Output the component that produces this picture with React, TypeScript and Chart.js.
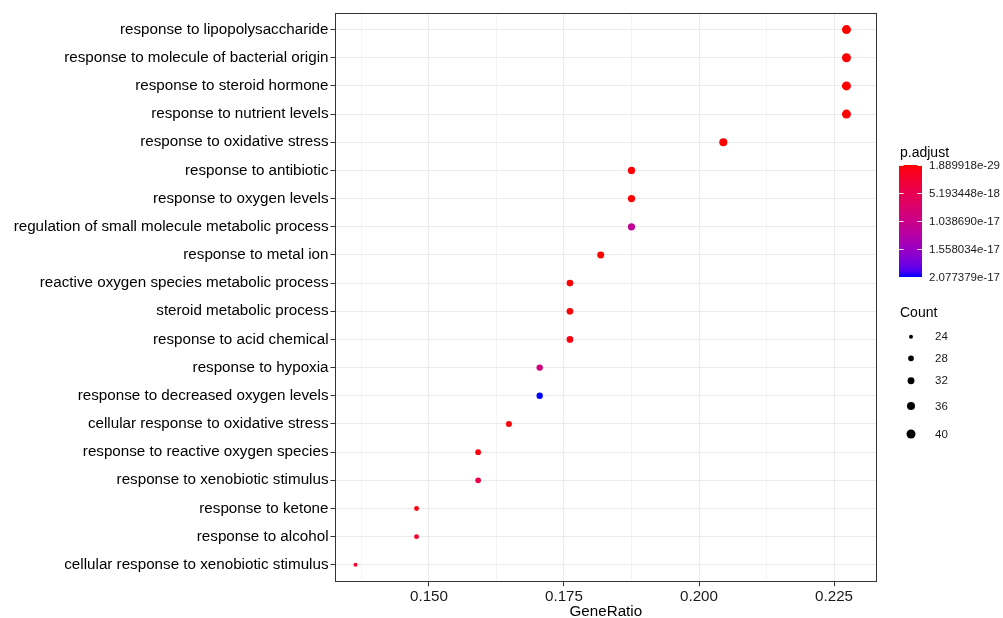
import React, { useEffect, useRef } from "react";
import { Chart, registerables } from "chart.js";

Chart.register(...registerables);

// ---------- data ----------
const terms: string[] = [
  "response to lipopolysaccharide",
  "response to molecule of bacterial origin",
  "response to steroid hormone",
  "response to nutrient levels",
  "response to oxidative stress",
  "response to antibiotic",
  "response to oxygen levels",
  "regulation of small molecule metabolic process",
  "response to metal ion",
  "reactive oxygen species metabolic process",
  "steroid metabolic process",
  "response to acid chemical",
  "response to hypoxia",
  "response to decreased oxygen levels",
  "cellular response to oxidative stress",
  "response to reactive oxygen species",
  "response to xenobiotic stimulus",
  "response to ketone",
  "response to alcohol",
  "cellular response to xenobiotic stimulus",
];

const geneRatio: number[] = [
  0.2273, 0.2273, 0.2273, 0.2273, 0.2045, 0.1875, 0.1875, 0.1875, 0.1818, 0.1761,
  0.1761, 0.1761, 0.1705, 0.1705, 0.1648, 0.1591, 0.1591, 0.1477, 0.1477, 0.1364,
];

const counts: number[] = [40, 40, 40, 40, 36, 33, 33, 33, 32, 31, 31, 31, 30, 30, 29, 28, 28, 26, 26, 24];

const pAdjust: number[] = [
  1.889918e-29, 3.5e-27, 8.2e-26, 4.1e-24, 2.3e-23, 6.4e-21, 1.2e-20, 1.15e-17, 4.0e-20, 7.5e-21,
  2.2e-19, 5.1e-19, 9.3e-18, 2.077379e-17, 3.8e-19, 4.0e-19, 4.6e-18, 6.0e-19, 2.5e-18, 2.6e-18,
];

const colorTicks: number[] = [1.889918e-29, 5.193448e-18, 1.03869e-17, 1.558034e-17, 2.077379e-17];
const sizeBreaks: number[] = [24, 28, 32, 36, 40];
const xMajorTicks: number[] = [0.15, 0.175, 0.2, 0.225];
const xMinorTicks: number[] = [0.1375, 0.1625, 0.1875, 0.2125];

// ---------- helpers ----------
const FONT = "'Liberation Sans', Arial, Helvetica, sans-serif";
const LOW = [255, 0, 0];
const HIGH = [0, 0, 255];
const pMin = colorTicks[0];
const pMax = colorTicks[colorTicks.length - 1];
const sMin = sizeBreaks[0];
const sMax = sizeBreaks[sizeBreaks.length - 1];

function toLin(c: number) {
  c /= 255;
  return c <= 0.04045 ? c / 12.92 : Math.pow((c + 0.055) / 1.055, 2.4);
}
function fromLin(c: number) {
  const v = c <= 0.0031308 ? 12.92 * c : 1.055 * Math.pow(Math.max(c, 0), 1 / 2.4) - 0.055;
  return Math.round(Math.max(0, Math.min(1, v)) * 255);
}
function rgbToLab(rgb: number[]) {
  const R = toLin(rgb[0]), G = toLin(rgb[1]), B = toLin(rgb[2]);
  const X = (0.4124 * R + 0.3576 * G + 0.1805 * B) / 0.95047;
  const Y = 0.2126 * R + 0.7152 * G + 0.0722 * B;
  const Z = (0.0193 * R + 0.1192 * G + 0.9505 * B) / 1.08883;
  const f = (t: number) => (t > 0.008856 ? Math.cbrt(t) : 7.787 * t + 16 / 116);
  return [116 * f(Y) - 16, 500 * (f(X) - f(Y)), 200 * (f(Y) - f(Z))];
}
function labToRgb(lab: number[]) {
  const fy = (lab[0] + 16) / 116;
  const fx = fy + lab[1] / 500;
  const fz = fy - lab[2] / 200;
  const inv = (t: number) => (t * t * t > 0.008856 ? t * t * t : (t - 16 / 116) / 7.787);
  const X = inv(fx) * 0.95047, Y = inv(fy), Z = inv(fz) * 1.08883;
  const R = 3.2406 * X - 1.5372 * Y - 0.4986 * Z;
  const G = -0.9689 * X + 1.8758 * Y + 0.0415 * Z;
  const B = 0.0557 * X - 0.204 * Y + 1.057 * Z;
  return [fromLin(R), fromLin(G), fromLin(B)];
}
const labLow = rgbToLab(LOW);
const labHigh = rgbToLab(HIGH);
function colorAt(t: number) {
  const tt = Math.max(0, Math.min(1, t));
  const lab = labLow.map((v, i) => v + (labHigh[i] - v) * tt);
  const c = labToRgb(lab);
  return `rgb(${c[0]},${c[1]},${c[2]})`;
}
function colorFor(p: number) {
  return colorAt((p - pMin) / (pMax - pMin));
}
const R_MIN = 2;
const R_MAX = 4.5;
function radiusFor(c: number) {
  const t = Math.max(0, Math.min(1, (c - sMin) / (sMax - sMin)));
  return Math.sqrt(R_MIN * R_MIN + (R_MAX * R_MAX - R_MIN * R_MIN) * t);
}
const isMajor = (v: number) => xMajorTicks.some((m) => Math.abs(m - v) < 1e-9);

// ---------- legend + frame plugin ----------
const framePlugin = {
  id: "frameAndLegend",
  afterDraw(chart: any) {
    const ctx: CanvasRenderingContext2D = chart.ctx;
    const a = chart.chartArea;
    ctx.save();
    // panel border
    ctx.strokeStyle = "#333333";
    ctx.lineWidth = 1;
    ctx.strokeRect(Math.round(a.left) + 0.5, Math.round(a.top) + 0.5, Math.round(a.right - a.left) - 1, Math.round(a.bottom - a.top) - 1);

    // p.adjust legend
    const lx = 900;
    ctx.fillStyle = "#000";
    ctx.textAlign = "left";
    ctx.textBaseline = "middle";
    ctx.font = `14px ${FONT}`;
    ctx.fillText("p.adjust", lx, 153);
    const barX = 899, barW = 23, barTop = 165, barH = 112;
    const grad = ctx.createLinearGradient(0, barTop, 0, barTop + barH);
    for (let i = 0; i <= 20; i++) grad.addColorStop(i / 20, colorAt(i / 20));
    ctx.fillStyle = grad;
    ctx.fillRect(barX, barTop, barW, barH);
    ctx.font = `11.5px ${FONT}`;
    colorTicks.forEach((v) => {
      const y = barTop + ((v - pMin) / (pMax - pMin)) * barH;
      ctx.strokeStyle = "rgba(255,255,255,0.9)";
      ctx.lineWidth = 1;
      ctx.beginPath();
      ctx.moveTo(barX, Math.round(y) + 0.5);
      ctx.lineTo(barX + barW / 5, Math.round(y) + 0.5);
      ctx.moveTo(barX + barW, Math.round(y) + 0.5);
      ctx.lineTo(barX + barW - barW / 5, Math.round(y) + 0.5);
      ctx.stroke();
      ctx.fillStyle = "#1a1a1a";
      ctx.fillText(v.toExponential(6), 929, y + 0.5);
    });

    // Count legend
    ctx.fillStyle = "#000";
    ctx.font = `14px ${FONT}`;
    ctx.fillText("Count", lx, 313);
    const keyY = [336.7, 358.3, 380.7, 406, 434];
    ctx.font = `11.5px ${FONT}`;
    sizeBreaks.forEach((s, i) => {
      ctx.fillStyle = "#000";
      ctx.beginPath();
      ctx.arc(911, keyY[i], radiusFor(s), 0, Math.PI * 2);
      ctx.fill();
      ctx.fillStyle = "#1a1a1a";
      ctx.fillText(String(s), 935, keyY[i] + 0.5);
    });
    ctx.restore();
  },
};

export default function App() {
  const ref = useRef<HTMLCanvasElement>(null);
  useEffect(() => {
    const canvas = ref.current;
    if (!canvas) return;
    const chart = new Chart(canvas, {
      type: "scatter",
      data: {
        datasets: [
          {
            data: geneRatio.map((x, i) => ({ x, y: i + 1 })),
            pointBackgroundColor: pAdjust.map(colorFor),
            pointRadius: counts.map(radiusFor),
            pointHoverRadius: counts.map(radiusFor),
            pointBorderWidth: 0,
            borderWidth: 0,
          },
        ],
      },
      options: {
        animation: false,
        responsive: false,
        devicePixelRatio: 1,
        events: [],
        layout: { padding: { top: 12.7, right: 126.3, left: 0, bottom: 0 } },
        plugins: { legend: { display: false }, tooltip: { enabled: false } },
        scales: {
          x: {
            type: "linear",
            min: 0.1326,
            max: 0.2329,
            afterBuildTicks: (s: any) => {
              s.ticks = [...xMinorTicks, ...xMajorTicks].sort((p, q) => p - q).map((v) => ({ value: v }));
            },
            afterFit: (s: any) => {
              s.height = 36.3;
            },
            border: { display: false },
            grid: {
              color: (c: any) => (isMajor(c.tick?.value) ? "#EBEBEB" : "#F4F4F4"),
              tickColor: (c: any) => (isMajor(c.tick?.value) ? "#333333" : "rgba(0,0,0,0)"),
              lineWidth: 1,
              tickLength: 4.5,
              drawTicks: true,
            },
            ticks: {
              autoSkip: false,
              maxRotation: 0,
              padding: 1,
              color: "#1a1a1a",
              font: { family: FONT, size: 15.2 },
              callback: (v: any) => (isMajor(Number(v)) ? Number(v).toFixed(3) : ""),
            },
            title: {
              display: true,
              text: "GeneRatio",
              color: "#000",
              font: { family: FONT, size: 15.2 },
              padding: { top: 0, bottom: -2.5 },
            },
          },
          y: {
            type: "linear",
            reverse: true,
            min: 0.4,
            max: terms.length + 0.6,
            afterBuildTicks: (s: any) => {
              s.ticks = terms.map((_, i) => ({ value: i + 1 }));
            },
            afterFit: (s: any) => {
              s.width = 335;
            },
            border: { display: false },
            grid: {
              color: "#EBEBEB",
              tickColor: "#333333",
              lineWidth: 1,
              tickLength: 4.5,
            },
            ticks: {
              autoSkip: false,
              padding: 2,
              color: "#000",
              font: { family: FONT, size: 15.2 },
              callback: (v: any) => terms[Math.round(Number(v)) - 1] ?? "",
            },
          },
        },
      },
      plugins: [framePlugin],
    } as any);
    return () => chart.destroy();
  }, []);
  return (
    <div style={{ position: "fixed", left: 0, top: 0, width: 1003, height: 618, background: "#fff" }}>
      <canvas ref={ref} width={1003} height={618} style={{ display: "block" }} />
    </div>
  );
}
